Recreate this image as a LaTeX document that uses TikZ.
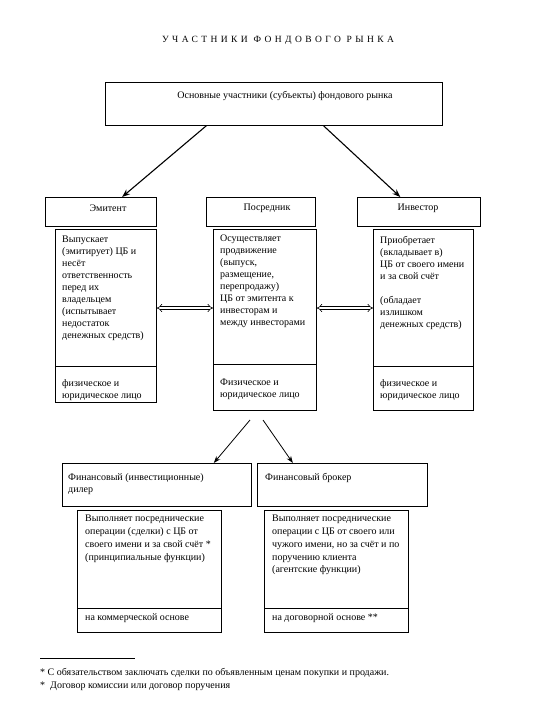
\documentclass[tikz,border=0pt]{standalone}
\usepackage{fontspec}
\setmainfont{Liberation Serif}
\usetikzlibrary{arrows.meta,calc}
\begin{document}
\begin{tikzpicture}[x=1pt,y=-1pt,
  every node/.style={inner sep=0pt},
  box/.style={draw, line width=0.75pt, anchor=north west, inner sep=0pt},
  txt/.style={anchor=north west, align=left, font=\fontsize{10}{12}\selectfont},
  txtb/.style={anchor=north west, align=left, font=\fontsize{10}{12.8}\selectfont},
  head/.style={font=\fontsize{10}{12}\selectfont},
  arr/.style={line width=1.1pt, -{Stealth[length=8pt,width=6pt]}},
  arrthin/.style={line width=0.8pt, -{Stealth[length=7pt,width=5pt]}},
  darr/.style={double, double distance=2.2pt, line width=0.6pt, {Implies}-{Implies}}]
\useasboundingbox (0,0) rectangle (540,720);

% title
\node[font=\fontsize{9.5}{11}\selectfont\addfontfeature{LetterSpace=36}] (title) at (278,40) {УЧАСТНИКИ ФОНДОВОГО РЫНКА};

% top box
\node[box, minimum width=337pt, minimum height=43pt] (top) at (105,82) {};
\node[head] (toptxt) at (285,96) {Основные участники (субъекты) фондового рынка};

% header boxes
\node[box, minimum width=111pt, minimum height=29pt] (em) at (45,197) {};
\node[box, minimum width=109pt, minimum height=29pt] (po) at (206,197) {};
\node[box, minimum width=123pt, minimum height=29pt] (in) at (357,197) {};
\node[head] (emtxt) at (108,208) {Эмитент};
\node[head] (potxt) at (267,208) {Посредник};
\node[head] (intxt) at (418,208) {Инвестор};

% tall boxes
\node[box, minimum width=101pt, minimum height=173pt] (lt) at (55,229) {};
\node[box, minimum width=103pt, minimum height=181pt] (mt) at (213,229) {};
\node[box, minimum width=100pt, minimum height=181pt] (rt) at (373,229) {};
\draw[line width=0.75pt] (55,366) -- (156,366);
\draw[line width=0.75pt] (213,364) -- (316,364);
\draw[line width=0.75pt] (373,366) -- (473,366);

\node[txt] (lttxt) at (62,236) {Выпускает\\(эмитирует) ЦБ и\\несёт\\ответственность\\перед их\\владельцем\\(испытывает\\недостаток\\денежных средств)};
\node[txt] (mttxt) at (220,235) {Осуществляет\\продвижение\\(выпуск,\\размещение,\\перепродажу)\\ЦБ от эмитента к\\инвесторам и\\между инвесторами};
\node[txt] (rttxt) at (380,236) {Приобретает\\(вкладывает в)\\ЦБ от своего имени\\и за свой счёт\\\mbox{}\\(обладает\\излишком\\денежных средств)};

\node[txt] (ltb) at (62,379) {физическое и\\юридическое лицо};
\node[txt] (mtb) at (220,379) {Физическое и\\юридическое лицо};
\node[txt] (rtb) at (380,379) {физическое и\\юридическое лицо};

% lower boxes
\node[box, minimum width=189pt, minimum height=43pt] (dl) at (62,463) {};
\node[box, minimum width=170pt, minimum height=43pt] (br) at (257,463) {};
\node[txt] (dltxt) at (68,473) {Финансовый (инвестиционные)\\дилер};
\node[txt] (brtxt) at (265,473) {Финансовый брокер};

\node[box, minimum width=144pt, minimum height=122pt] (dlb) at (77,510) {};
\node[box, minimum width=144pt, minimum height=122pt] (brb) at (264,510) {};
\draw[line width=0.75pt] (77,608) -- (221,608);
\draw[line width=0.75pt] (264,608) -- (408,608);

\node[txtb] (dlbtxt) at (85,515) {Выполняет посреднические\\операции (сделки) с ЦБ от\\своего имени и за свой счёт *\\(принципиальные функции)};
\node[txtb] (brbtxt) at (272,515) {Выполняет посреднические\\операции с ЦБ от своего или\\чужого имени, но за счёт и по\\поручению клиента\\(агентские функции)};
\node[txt] (dlbb) at (85,613) {на коммерческой основе};
\node[txt] (brbb) at (272,613) {на договорной основе **};

% connectors
\draw[arr] ($(top.south west)!0.30!(top.south east)$) -- ($(em.north west)!0.69!(em.north east)$);
\draw[arr] ($(top.south west)!0.647!(top.south east)$) -- ($(in.north west)!0.35!(in.north east)$);

\coordinate (ya) at (0,308);
\draw[darr] (lt.east |- ya) -- (mt.west |- ya);
\draw[darr] (mt.east |- ya) -- (rt.west |- ya);

\coordinate (s1) at (250,420);
\coordinate (s2) at (263,420);
\draw[arrthin] (s1) -- ($(dl.north west)!0.80!(dl.north east)$);
\draw[arrthin] (s2) -- ($(br.north west)!0.21!(br.north east)$);

% footnotes
\draw[line width=0.6pt] (40,658) -- (135,658);
\node[txt, font=\fontsize{10}{12}\selectfont] (fn1) at (40,668) {* С обязательством заключать сделки по объявленным ценам покупки и продажи.};
\node[txt, font=\fontsize{10}{12}\selectfont] (fn2) at (40,682) {*~ Договор комиссии или договор поручения};
\end{tikzpicture}
\end{document}
